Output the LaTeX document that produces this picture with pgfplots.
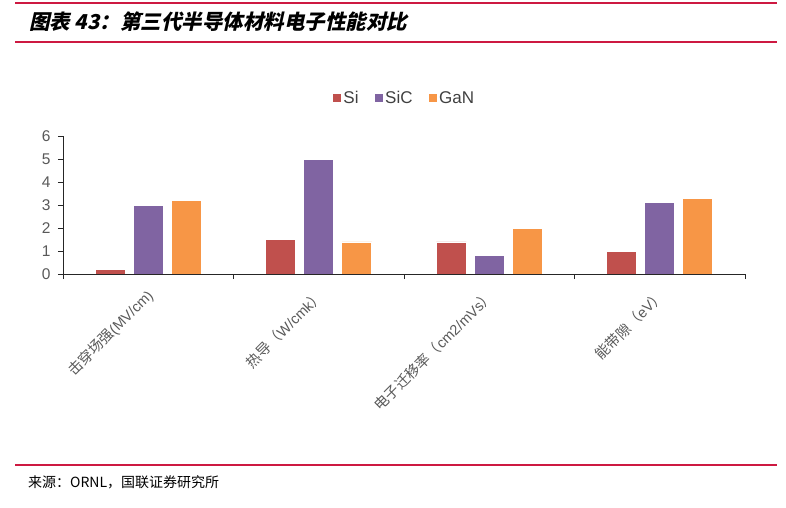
\documentclass[border=0pt]{standalone}
\usepackage{fontspec}
\usepackage{pgfplots}
\pgfplotsset{compat=1.18}
\setmainfont{Liberation Sans}
\newfontfamily\cjk{Noto Sans CJK SC}
\newfontfamily\cjktitle[FakeSlant=0.22]{Noto Sans CJK SC}
\definecolor{cSi}{HTML}{C0504D}
\definecolor{cSiC}{HTML}{8064A2}
\definecolor{cGaN}{HTML}{F79646}
\definecolor{cRule}{RGB}{205,25,65}
\definecolor{cText}{HTML}{595959}

\begin{document}
\begin{tikzpicture}
  \useasboundingbox (0pt,0pt) rectangle (786pt,-507pt);
  % header and footer rules
  \draw[cRule, line width=1.3pt] (15pt,-3pt) -- (777pt,-3pt);
  \draw[cRule, line width=1.3pt] (15pt,-42pt) -- (777pt,-42pt);
  \draw[cRule, line width=1.3pt] (15pt,-465pt) -- (777pt,-465pt);
  \node[anchor=west, inner sep=0pt] at (29pt,-22pt)
    {\cjktitle\bfseries\fontsize{20.5}{20.5}\selectfont 图表 43：第三代半导体材料电子性能对比};
  \node[anchor=west, inner sep=0pt] at (28pt,-482pt)
    {\cjk\fontsize{14}{14}\selectfont 来源：ORNL，国联证券研究所};

  \begin{axis}[
    at={(63pt,-274pt)}, anchor=south west,
    scale only axis,
    width=682pt, height=138pt,
    axis lines=left,
    axis on top,
    axis line style={black!85, line width=1pt, -},
    xmin=-0.5, xmax=3.5,
    ymin=0, ymax=6,
    ytick={0,1,2,3,4,5,6},
    xtick={0,1,2,3},
    xticklabels={
      {\cjk 击穿场强}(MV/cm),
      {\cjk 热导（}W/cmk{\cjk ）},
      {\cjk 电子迁移率（}cm2/mVs{\cjk ）},
      {\cjk 能带隙（}eV{\cjk ）}},
    minor xtick={-0.5,0.5,1.5,2.5,3.5},
    tick align=outside,
    major tick length=5pt,
    minor tick length=5pt,
    x tick style={draw=none},
    minor x tick style={draw=black!85, line width=1pt},
    y tick style={black!85, line width=1pt},
    /pgf/number format/assume math mode=true,
    yticklabel style={font=\fontsize{15.5}{15.5}\selectfont, text=cText, xshift=-4pt},
    xticklabel style={xshift=-3pt, yshift=-4pt, rotate=45, anchor=north east,
      font=\fontsize{14.5}{14.5}\selectfont, text=cText},
    legend style={at={(0.5,1.275)}, anchor=center, draw=none, fill=none,
      legend columns=-1, font=\fontsize{17}{17}\selectfont, text=black!75,
      /tikz/every even column/.append style={column sep=13pt}},
    legend image code/.code={\fill[#1] (0pt,-4.5pt) rectangle (9pt,4.5pt);},
    clip=false,
  ]
    \addplot[ybar, bar width=30pt, bar shift=-38pt, fill=cSi, draw=white, line width=0.6pt]
      coordinates {(0,0.2) (1,1.5) (2,1.4) (3,1.0)};
    \addlegendentry{Si}
    \addplot[ybar, bar width=30pt, bar shift=0pt, fill=cSiC, draw=white, line width=0.6pt]
      coordinates {(0,3.0) (1,5.0) (2,0.8) (3,3.1)};
    \addlegendentry{SiC}
    \addplot[ybar, bar width=30pt, bar shift=38pt, fill=cGaN, draw=white, line width=0.6pt]
      coordinates {(0,3.2) (1,1.4) (2,2.0) (3,3.3)};
    \addlegendentry{GaN}
  \end{axis}
\end{tikzpicture}
\end{document}
